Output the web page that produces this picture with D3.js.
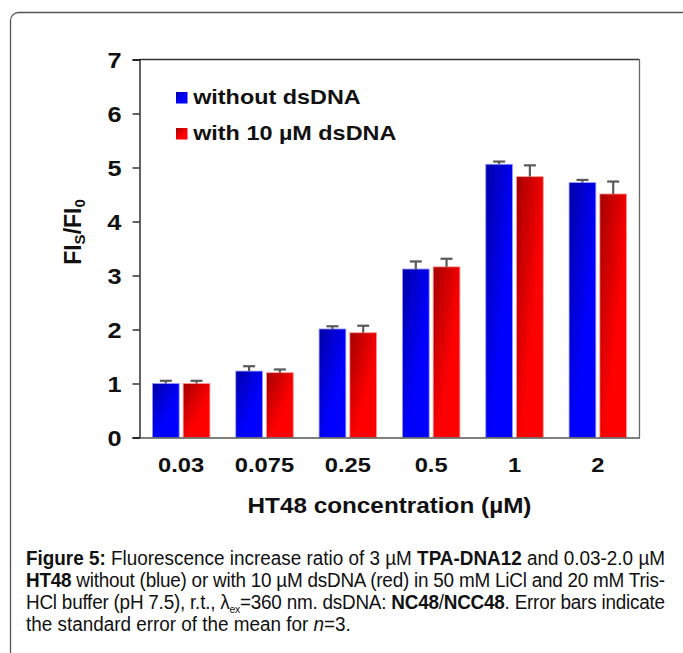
<!DOCTYPE html>
<html>
<head>
<meta charset="utf-8">
<script src="https://cdn.jsdelivr.net/npm/d3@7"></script>
<style>
    body { margin: 0; background: #fff; }
    svg text { font-family: Arial, "Liberation Sans", sans-serif; }
    .chartText { font-weight: bold; fill: #111; }
    .wide { transform-box: fill-box; transform-origin: center; transform: scaleX(1.13); }
    .wideLeft { transform-box: fill-box; transform-origin: left center; transform: scaleX(1.17); }
    .wideRight { transform-box: fill-box; transform-origin: right center; transform: scaleX(1.15); }
    .caption { font-family: Arial, "Liberation Sans", sans-serif; font-size: 20px; fill: #111; }
</style>
</head>
<body onload="init()">
<div id="figure"></div>
<script>

var CATEGORIES = ["0.03", "0.075", "0.25", "0.5", "1", "2"];

/* FI_S/FI_0 */
var WITHOUT_DSDNA = [1.00, 1.23, 2.01, 3.12, 5.06, 4.72];
var WITHOUT_DSDNA_ERR = [0.05, 0.09, 0.05, 0.14, 0.05, 0.05];
var WITH_DSDNA = [1.00, 1.20, 1.94, 3.16, 4.83, 4.51];
var WITH_DSDNA_ERR = [0.05, 0.06, 0.13, 0.15, 0.21, 0.23];

var SERIES_NAMES = ["without dsDNA", "with 10 \u00b5M dsDNA"];
var Y_TICKS = [0, 1, 2, 3, 4, 5, 6, 7];

var WIDTH = 683;
var HEIGHT = 653;

function init(){
    var svg = d3.select("#figure").append("svg")
        .attr("width", WIDTH)
        .attr("height", HEIGHT);

    appendGradients(svg);
    appendFrame(svg);
    appendChart(svg);
    appendCaption(svg);
}

function appendGradients(svg){
    var defs = svg.append("defs");
    var gradients = [
        {id: "blueGrad", dark: "#0000a6", light: "#0000ff"},
        {id: "redGrad", dark: "#a40000", light: "#ff0000"}
    ];
    gradients.forEach(function(g){
        var lg = defs.append("linearGradient")
            .attr("id", g.id)
            .attr("x1", 0).attr("y1", 0)
            .attr("x2", 1).attr("y2", 1);
        lg.append("stop").attr("offset", "0").attr("stop-color", g.dark);
        lg.append("stop").attr("offset", "0.6").attr("stop-color", g.light);
        lg.append("stop").attr("offset", "1").attr("stop-color", g.light);
    });
}

/* rounded box around the whole figure, cut by the page edges */
function appendFrame(svg){
    svg.append("rect")
        .attr("x", 10.5)
        .attr("y", 12.5)
        .attr("width", 720)
        .attr("height", 720)
        .attr("rx", 8)
        .attr("fill", "none")
        .attr("stroke", "#555")
        .attr("stroke-width", 1.3);
}

function appendChart(svg){
    var left = 139.5, right = 639.5, top = 59.5, bottom = 437.5;

    var series = [
        {name: SERIES_NAMES[0], values: WITHOUT_DSDNA, errors: WITHOUT_DSDNA_ERR, fill: "url(#blueGrad)", stroke: "#9a9aff"},
        {name: SERIES_NAMES[1], values: WITH_DSDNA, errors: WITH_DSDNA_ERR, fill: "url(#redGrad)", stroke: "#ff9a9a"}
    ];

    var x = d3.scaleBand().domain(CATEGORIES).range([left, right]).paddingInner(0.31).paddingOuter(0.155);
    var xSeries = d3.scaleBand().domain([0, 1]).range([0, x.bandwidth()]).paddingInner(0.13);
    var y = d3.scaleLinear().domain([0, 7]).range([bottom, top]);

    /* top + right frame of the plot */
    svg.append("line")
        .attr("x1", left).attr("x2", right)
        .attr("y1", top).attr("y2", top)
        .attr("stroke", "#333").attr("stroke-width", 1.3);
    svg.append("line")
        .attr("x1", right).attr("x2", right)
        .attr("y1", top).attr("y2", bottom)
        .attr("stroke", "#666").attr("stroke-width", 1.3);

    /* bars */
    series.forEach(function(s, si){
        var g = svg.append("g");
        g.selectAll("rect")
            .data(CATEGORIES).enter()
            .append("rect")
            .attr("x", function(c){ return x(c) + xSeries(si); })
            .attr("width", xSeries.bandwidth())
            .attr("y", function(c, i){ return y(s.values[i]); })
            .attr("height", function(c, i){ return y(0) - y(s.values[i]); })
            .attr("fill", s.fill)
            .attr("stroke", s.stroke)
            .attr("stroke-width", 0.8);

        /* upper error bar only */
        var cx = function(c){ return x(c) + xSeries(si) + xSeries.bandwidth() / 2; };
        g.selectAll("line.err")
            .data(CATEGORIES).enter()
            .append("line").classed("err", true)
            .attr("x1", cx).attr("x2", cx)
            .attr("y1", function(c, i){ return y(s.values[i]); })
            .attr("y2", function(c, i){ return y(s.values[i] + s.errors[i]); })
            .attr("stroke", "#5a5a5a").attr("stroke-width", 2.2);
        g.selectAll("line.cap")
            .data(CATEGORIES).enter()
            .append("line").classed("cap", true)
            .attr("x1", function(c){ return cx(c) - 6; })
            .attr("x2", function(c){ return cx(c) + 6; })
            .attr("y1", function(c, i){ return y(s.values[i] + s.errors[i]); })
            .attr("y2", function(c, i){ return y(s.values[i] + s.errors[i]); })
            .attr("stroke", "#5a5a5a").attr("stroke-width", 2.2);
    });

    /* axes */
    var yAxis = svg.append("g")
        .attr("transform", "translate(" + left + ",0)")
        .call(d3.axisLeft(y).tickValues(Y_TICKS).tickSize(7).tickPadding(11).tickFormat(d3.format("d")));
    yAxis.select(".domain").attr("stroke", "#111").attr("stroke-width", 1.3);
    yAxis.selectAll(".tick line").attr("stroke", "#111").attr("stroke-width", 1.3);
    yAxis.selectAll(".tick text")
        .classed("chartText wideRight", true)
        .attr("dy", "0.36em")
        .style("font-size", "22px");

    var xAxis = svg.append("g")
        .attr("transform", "translate(0," + bottom + ")")
        .call(d3.axisBottom(x).tickSize(0).tickPadding(20));
    xAxis.select(".domain").attr("stroke", "#555").attr("stroke-width", 1.6);
    xAxis.selectAll(".tick text")
        .classed("chartText wide", true)
        .style("font-size", "21px");

    /* axis titles */
    svg.append("text")
        .classed("chartText wide", true)
        .attr("x", (left + right) / 2)
        .attr("y", 513)
        .attr("text-anchor", "middle")
        .style("font-size", "21.5px")
        .text("HT48 concentration (\u00b5M)");

    var yTitle = svg.append("text")
        .classed("chartText", true)
        .attr("transform", "translate(81,232) rotate(-90)")
        .attr("text-anchor", "middle")
        .style("font-size", "23px");
    yTitle.append("tspan").text("FI");
    yTitle.append("tspan").attr("baseline-shift", "-4").style("font-size", "15px").text("S");
    yTitle.append("tspan").text("/FI");
    yTitle.append("tspan").attr("baseline-shift", "-4").style("font-size", "15px").text("0");

    /* legend */
    series.forEach(function(s, i){
        var ly = 92 + i * 36;
        svg.append("rect")
            .attr("x", 176).attr("y", ly)
            .attr("width", 11.5).attr("height", 11.5)
            .attr("fill", s.fill);
        svg.append("text")
            .classed("chartText wideLeft", true)
            .attr("x", 193)
            .attr("y", ly + 12)
            .style("font-size", "20px")
            .text(s.name);
    });
}

function appendCaption(svg){
    var lines = [
        [{t: "Figure 5:", b: true}, {t: " Fluorescence increase ratio of 3 \u00b5M "}, {t: "TPA-DNA12", b: true}, {t: " and 0.03-2.0 \u00b5M"}],
        [{t: "HT48", b: true}, {t: " without (blue) or with 10 \u00b5M dsDNA (red) in 50 mM LiCl and 20 mM Tris-"}],
        [{t: "HCl buffer (pH 7.5), r.t., \u03bb"}, {t: "ex", sub: true}, {t: "=360 nm. dsDNA: "}, {t: "NC48", b: true}, {t: "/"}, {t: "NCC48", b: true}, {t: ". Error bars indicate"}],
        [{t: "the standard error of the mean for "}, {t: "n", i: true}, {t: "=3."}]
    ];
    var lineWidth = 639;
    var subShift = 4;
    var cap = svg.append("g");
    var baseY = 565, lineH = 22;
    var texts = [];
    lines.forEach(function(parts, li){
        var text = cap.append("text")
            .classed("caption", true)
            .attr("x", 0)
            .attr("y", baseY + li * lineH)
            .attr("xml:space", "preserve");
        var afterSub = false;
        parts.forEach(function(p){
            var ts = text.append("tspan").text(p.t);
            if (p.b) ts.style("font-weight", "bold");
            if (p.i) ts.style("font-style", "italic");
            if (p.sub) {
                ts.style("font-size", "11px").attr("dy", subShift);
            } else if (afterSub) {
                /* go back to the base line after a subscript */
                ts.attr("dy", -subShift);
            }
            afterSub = !!p.sub;
        });
        texts.push(text);
    });

    /* narrow face: squeeze a normal sans so the first line fills the column */
    var squeeze = lineWidth / texts[0].node().getComputedTextLength();
    cap.attr("transform", "translate(26,0) scale(" + squeeze + ",1)");
    texts.forEach(function(text, li){
        if (li < texts.length - 1) {
            text.attr("textLength", lineWidth / squeeze).attr("lengthAdjust", "spacing");
        }
    });
}
</script>
</body>
</html>
